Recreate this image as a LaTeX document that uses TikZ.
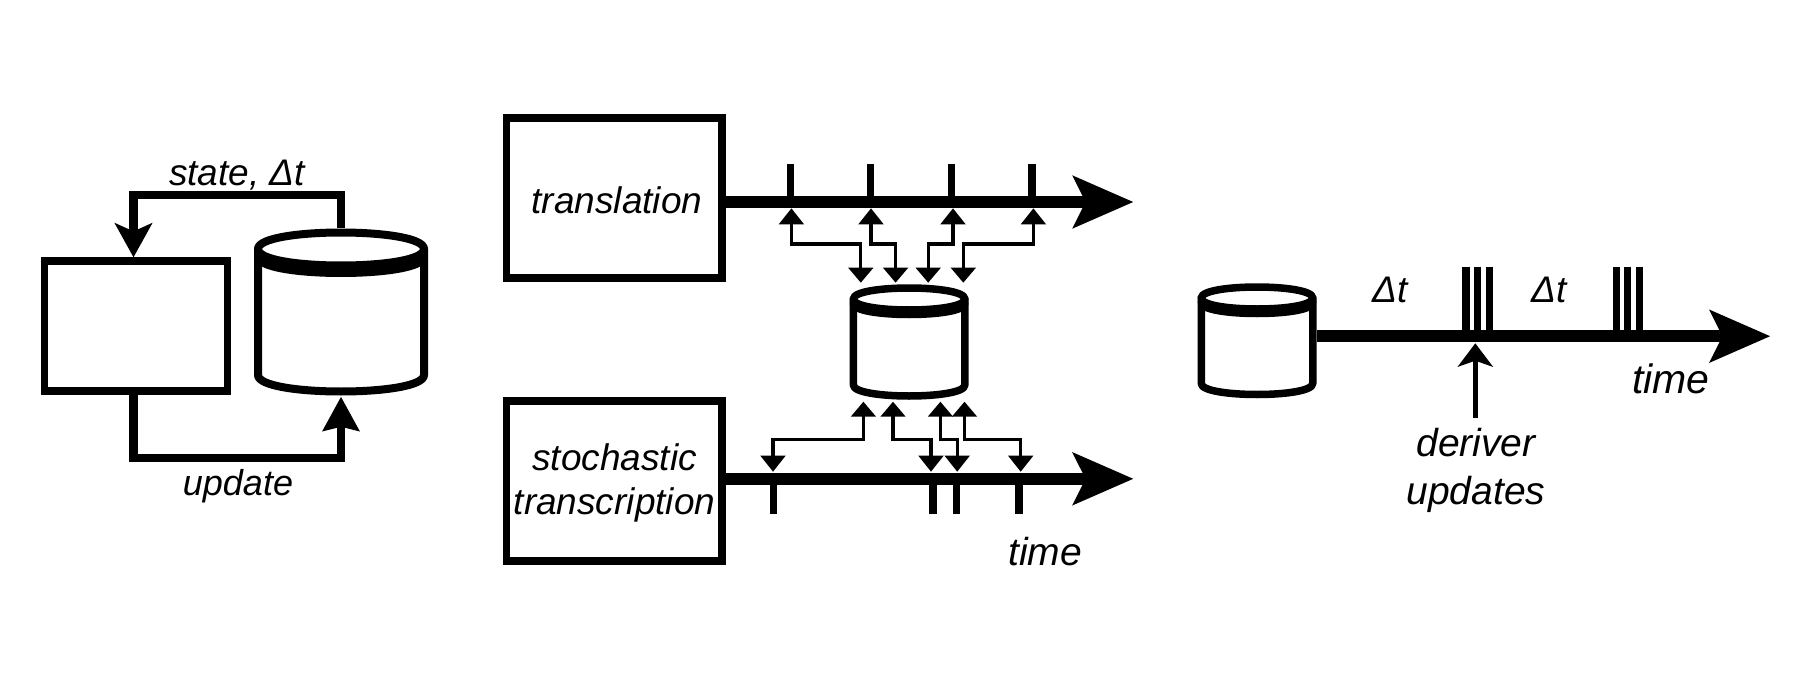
\documentclass[tikz,border=0pt]{standalone}
\usepackage{fontspec}
\setmainfont{Liberation Sans}
\usetikzlibrary{arrows.meta,calc}
\tikzset{
  x=1pt,y=-1pt,
  boxnode/.style={draw=black,line width=7.3pt,minimum width=215.5pt,minimum height=160pt,inner sep=0pt},
  boxsmall/.style={draw=black,line width=7.3pt,minimum width=183pt,minimum height=130pt,inner sep=0pt},
  lab/.style={font=\fontsize{37}{44}\selectfont\itshape,inner sep=0pt},
  labsm/.style={font=\fontsize{36}{42}\selectfont\itshape,inner sep=0pt},
  labst/.style={font=\fontsize{37}{42}\selectfont\itshape,inner sep=0pt},
  labtm/.style={font=\fontsize{39}{44}\selectfont\itshape,inner sep=0pt},
  lablg/.style={font=\fontsize{39}{48}\selectfont\itshape,inner sep=0pt},
  labxl/.style={font=\fontsize{41}{48}\selectfont\itshape,inner sep=0pt},
  loopline/.style={line width=8.5pt,line join=miter},
  axisline/.style={line width=12.3pt,-{Stealth[length=60pt,width=51pt,inset=12pt]}},
  ticksty/.style={line width=7.5pt},
  dbl/.style={line width=3.2pt,{Triangle[length=16pt,width=24.5pt]}-{Triangle[length=15pt,width=24.5pt]}},
}
% centre x, rim y, bottom rim y, half width, ry, gap, line width
\newcommand{\dbcyl}[7]{%
  \draw[line width=#7pt,line join=round,line cap=round]
    ({#1-#4},#3) -- ({#1-#4},#2)
    .. controls ({#1-#4},{#2-1.333*#5}) and ({#1+#4},{#2-1.333*#5}) .. ({#1+#4},#2)
    -- ({#1+#4},#3)
    .. controls ({#1+#4},{#3+1.333*#5}) and ({#1-#4},{#3+1.333*#5}) .. ({#1-#4},#3);
  \draw[line width=#7pt,line cap=round]
    ({#1-#4},#2) .. controls ({#1-#4},{#2+1.333*#5}) and ({#1+#4},{#2+1.333*#5}) .. ({#1+#4},#2);
  \draw[line width=#7pt,line cap=round]
    ({#1-#4},{#2+#6}) .. controls ({#1-#4},{#2+#6+1.333*#5}) and ({#1+#4},{#2+#6+1.333*#5}) .. ({#1+#4},{#2+#6});
}
\begin{document}
\begin{tikzpicture}
\useasboundingbox[fill=white] (0,0) rectangle (1800,675);

% --- left loop
\node[boxsmall] (boxA) at (136,326) {};
\dbcyl{341}{249}{375}{83}{16.5}{7.5}{8}
\node[inner sep=0pt,outer sep=0pt,minimum width=174pt,minimum height=168.7pt] (cylA) at (341,312.35) {};
\coordinate (loopT) at (133.5,195);
\coordinate (loopB) at (133.5,458);
\draw[loopline,-{Stealth[length=34pt,width=37pt,inset=8pt]}]
  (cylA.north) -- (cylA.north |- loopT) -- (loopT) -- ([xshift=-2.5pt]boxA.north);
\draw[loopline,-{Stealth[length=34pt,width=36pt,inset=4pt]}]
  ([xshift=-2.5pt]boxA.south) -- (loopB) -- (cylA.south |- loopB) -- (cylA.south);
\node[labst,anchor=base] (lstate) at (237,185.5) {state, Δt};
\node[labsm,anchor=base] (lupdate) at (238,495) {update};

% --- middle
\node[boxnode] (trans) at (614.25,198) {};
\node[boxnode] (stoch) at (614.25,481) {};
\node[lab,anchor=base] (ltrans) at (617,213.7) {translation};
\node[lab,align=center] (lstoch) at (614.5,483) {stochastic\\transcription};
\dbcyl{909.1}{299}{385}{55.75}{11}{4.5}{7.5}
\node[inner sep=0pt,outer sep=0pt,minimum width=119pt,minimum height=117pt] (cylB) at (909.1,341.8) {};

\coordinate (tipT) at (1133.6,202);
\coordinate (tipS) at (1133.6,478.8);
\foreach \x in {790.7,870.7,951.7,1032} \draw[ticksty] (\x,164.3) -- (\x,202);
\foreach \x in {773.5,933,956.5,1019} \draw[ticksty] (\x,478.8) -- (\x,514);
\draw[axisline] ([yshift=-4pt]trans.east) -- (tipT);
\draw[axisline] ([yshift=2.2pt]stoch.east) -- (tipS);

% upper connectors
\foreach \n/\a/\b in {1/791.4/860.8,2/871/895.6,3/953/928.2,4/1033.4/963.3}{
  \coordinate (ua\n) at (\a,208.3);
  \coordinate (ub\n) at (\b,282.7);
  \coordinate (uh\n) at (\a,244);
  \draw[dbl] (ua\n) -- (uh\n) -- (uh\n -| ub\n) -- (ub\n);
}
% lower connectors
\foreach \n/\a/\b in {1/773/863.4,2/931/893,3/957.2/940.4,4/1020.7/964.5}{
  \coordinate (la\n) at (\a,471.7);
  \coordinate (lb\n) at (\b,401.7);
  \coordinate (lh\n) at (\a,439.3);
  \draw[dbl] (la\n) -- (lh\n) -- (lh\n -| lb\n) -- (lb\n);
}
\node[labtm,anchor=base] (ltimeA) at (1045,565) {time};

% --- right
\dbcyl{1257}{298}{383.5}{55.75}{11}{4.5}{7.5}
\node[inner sep=0pt,outer sep=0pt,minimum width=119pt,minimum height=117.6pt] (cylC) at (1257,340.5) {};
\coordinate (tipC) at (1770.5,336.2);
\coordinate (axC) at (1317,336.2);
\foreach \x in {1466,1477.3,1489.2,1616.2,1627.3,1639.2} \draw[line width=7.2pt] (\x,266.7) -- (\x,336);
\draw[axisline] (axC) -- (tipC);
\coordinate (derTip) at (1475.3,343.3);
\coordinate (derBot) at (1475.3,417.7);
\draw[line width=5.5pt,-{Stealth[length=23.4pt,width=35pt,inset=6pt]}] (derBot) -- (derTip);
\node[lab,anchor=base] (ldtA) at (1390,302.5) {Δt};
\node[lab,anchor=base] (ldtB) at (1549.5,302.5) {Δt};
\node[labxl,anchor=base] (ltimeC) at (1671,393.5) {time};
\node[lablg,align=center] (lder) at (1476,470) {deriver\\updates};
\end{tikzpicture}
\end{document}
